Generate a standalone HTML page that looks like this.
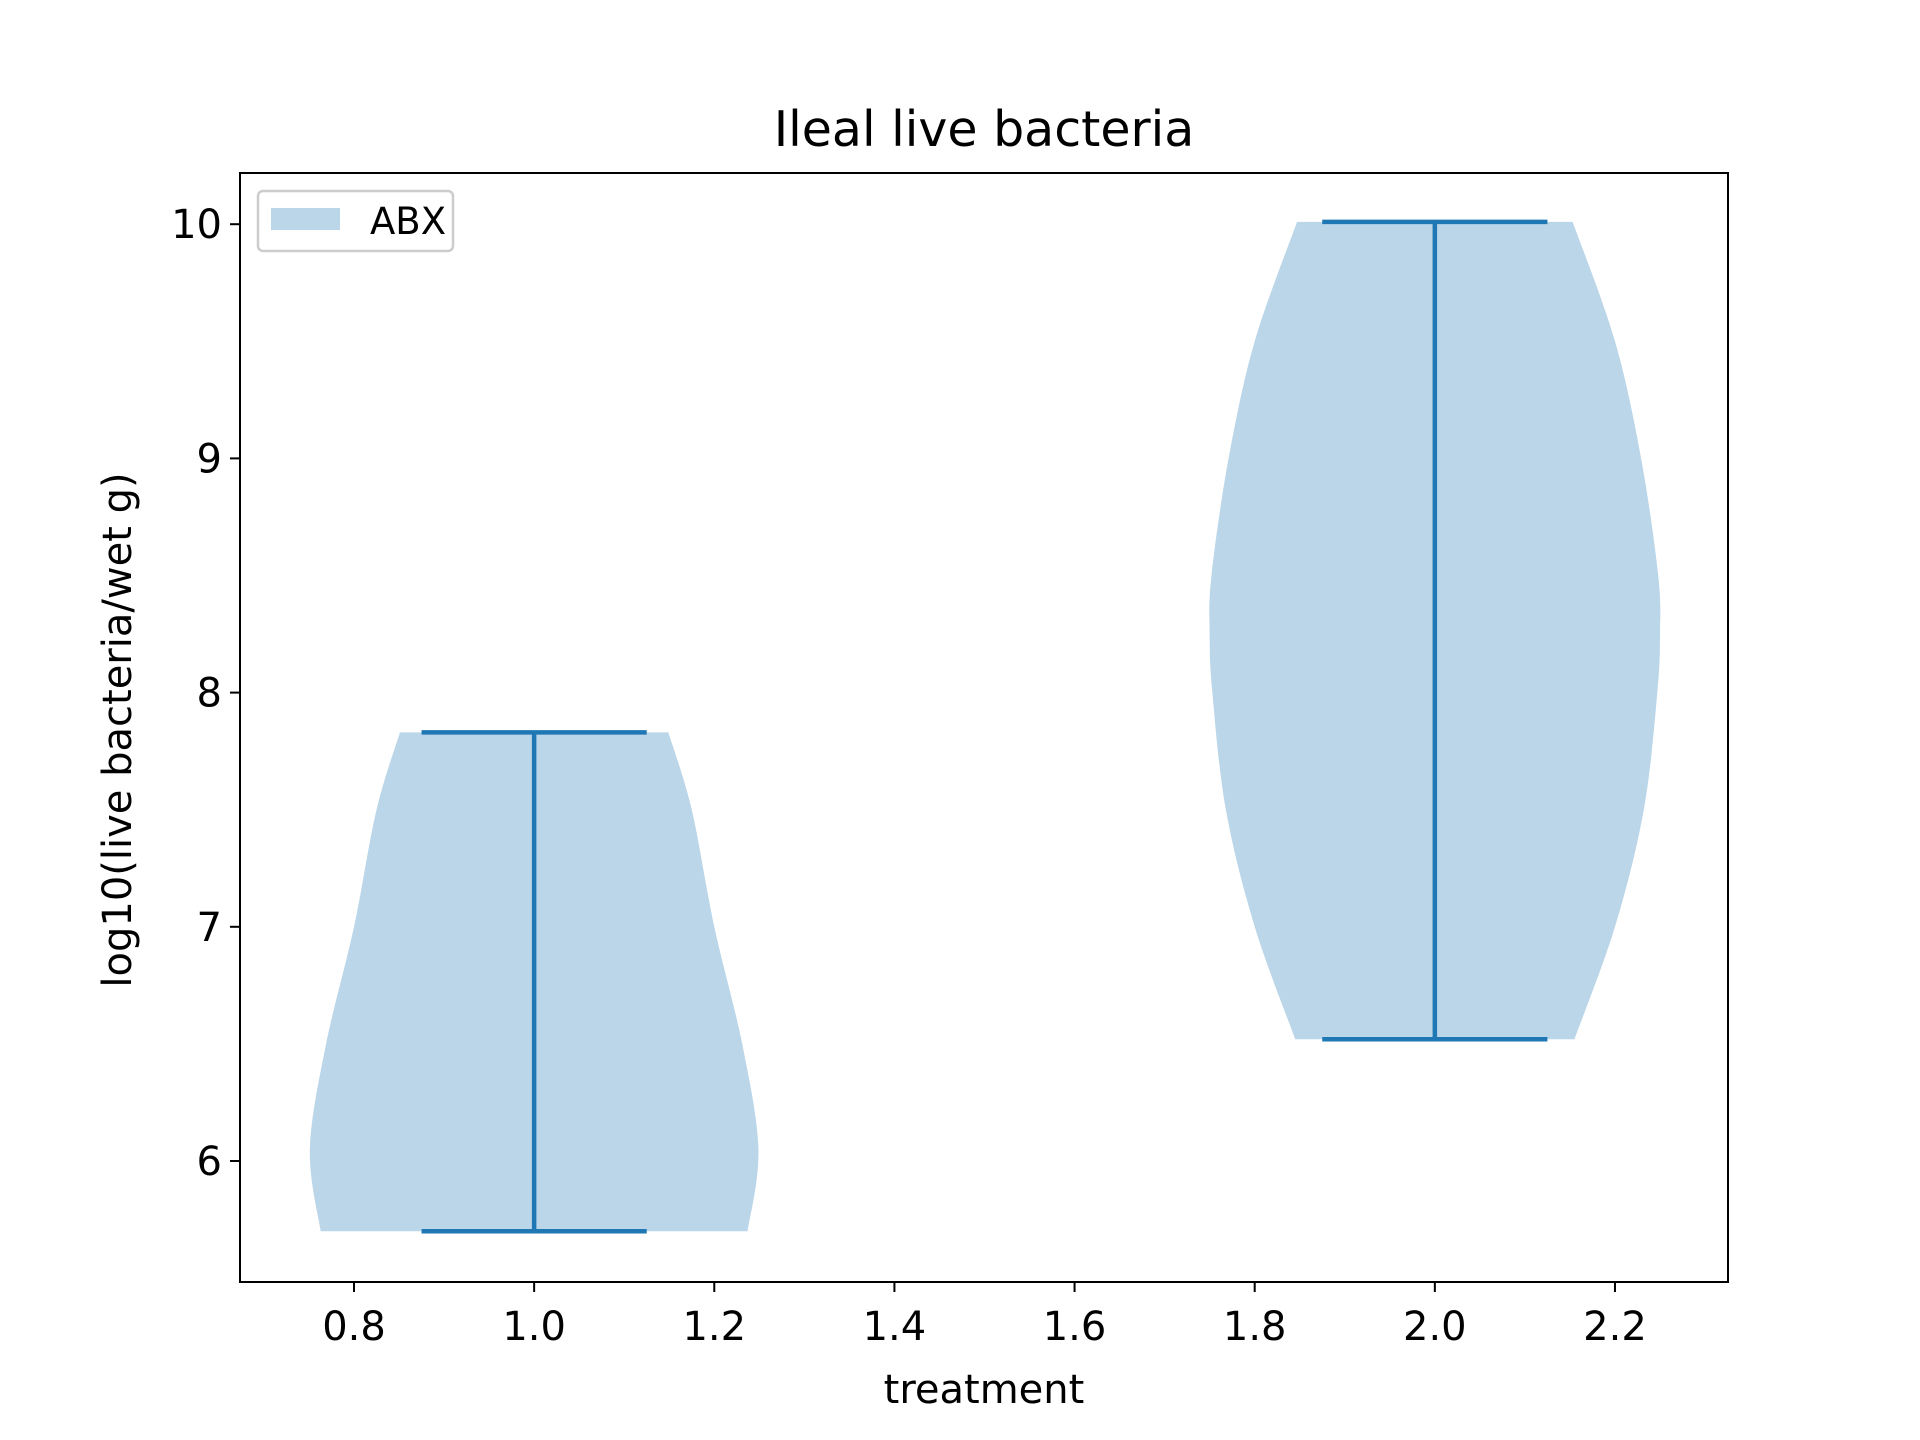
<!DOCTYPE html>
<html><head><meta charset="utf-8"><style>body{margin:0;background:#fff}svg{display:block}text{font-family:"DejaVu Sans","Liberation Sans",sans-serif;fill:#000}</style></head>
<body>
<svg id="c" width="1920" height="1440" viewBox="0 0 1920 1440"></svg>
<script>
const categories=["ABX-1","ABX-2"];
const positions=[1.0,2.0];
const mins=[5.70,6.52];
const maxs=[7.83,10.01];
const v1Y=[5.70,6.05,6.5,7.0,7.5,7.83];
const v1W=[0.237,0.249,0.231,0.200,0.175,0.149];
const v2Y=[6.52,7.0,7.5,8.0,8.25,8.5,9.0,9.5,10.01];
const v2W=[0.155,0.200,0.232,0.247,0.25,0.248,0.229,0.200,0.153];
const xTicks=[0.8,1.0,1.2,1.4,1.6,1.8,2.0,2.2];
const yTicks=[6,7,8,9,10];
const NS="http://www.w3.org/2000/svg";
const svg=document.getElementById('c');
const L=240,R=1728,T=173,B=1282;
const X=v=>354+(v-0.8)*900.7;
const Y=v=>1161-(v-6)*234.2;
function mk(t,a,p){const e=document.createElementNS(NS,t);for(const k in a)e.setAttribute(k,a[k]);(p||svg).appendChild(e);return e;}
function spline(pts){let d="M"+pts[0][0]+","+pts[0][1];for(let i=0;i<pts.length-1;i++){const p0=pts[Math.max(0,i-1)],p1=pts[i],p2=pts[i+1],p3=pts[Math.min(pts.length-1,i+2)];const c1=[p1[0]+(p2[0]-p0[0])/6,p1[1]+(p2[1]-p0[1])/6],c2=[p2[0]-(p3[0]-p1[0])/6,p2[1]-(p3[1]-p1[1])/6];d+=" C"+c1+" "+c2+" "+p2;}return d;}
function violin(c,ys,ws,name){const right=ys.map((y,i)=>[X(c+ws[i]),Y(y)]);const left=ys.map((y,i)=>[X(c-ws[i]),Y(y)]).reverse();let d=spline(right)+" L"+left[0]+" "+spline(left).slice(1)+" Z";const p=mk('path',{d:d,fill:'#1f77b4','fill-opacity':0.3,stroke:'none'});

}
violin(positions[0],v1Y,v1W,'violin-body-1');
violin(positions[1],v2Y,v2W,'violin-body-2');
positions.forEach((c,i)=>{const g=mk('g',{stroke:'#1f77b4','stroke-width':4.5});


mk('line',{x1:X(c),x2:X(c),y1:Y(mins[i]),y2:Y(maxs[i])},g);
mk('line',{x1:X(c-0.125),x2:X(c+0.125),y1:Y(mins[i]),y2:Y(mins[i])},g);
mk('line',{x1:X(c-0.125),x2:X(c+0.125),y1:Y(maxs[i]),y2:Y(maxs[i])},g);});
const fr=mk('rect',{x:L,y:T,width:R-L,height:B-T,fill:'none',stroke:'#000','stroke-width':2});

xTicks.forEach(v=>{mk('line',{x1:X(v),x2:X(v),y1:B,y2:B+10,stroke:'#000','stroke-width':2});const t=mk('text',{x:X(v),y:B+58,'font-size':40,'text-anchor':'middle'});t.textContent=v.toFixed(1);
});
yTicks.forEach(v=>{mk('line',{x1:L-10,x2:L,y1:Y(v),y2:Y(v),stroke:'#000','stroke-width':2});const t=mk('text',{x:L-18,y:Y(v)+14,'font-size':40,'text-anchor':'end'});t.textContent=v;
});
let t=mk('text',{x:984,y:146,'font-size':49,'text-anchor':'middle'});t.textContent='Ileal live bacteria';

t=mk('text',{x:984,y:1403,'font-size':40,'text-anchor':'middle'});t.textContent='treatment';

t=mk('text',{x:0,y:0,'font-size':40,'text-anchor':'middle',transform:'translate(131,730) rotate(-90)'});t.textContent='log10(live bacteria/wet g)';

const lg=mk('g',{});

mk('rect',{x:258,y:191,width:195,height:60,rx:5,fill:'#fff',stroke:'#ccc','stroke-width':2.5},lg);
mk('rect',{x:271,y:208,width:69,height:22,fill:'#1f77b4','fill-opacity':0.3},lg);
t=mk('text',{x:370,y:234,'font-size':37},lg);t.textContent='ABX';

</script>
</body></html>
